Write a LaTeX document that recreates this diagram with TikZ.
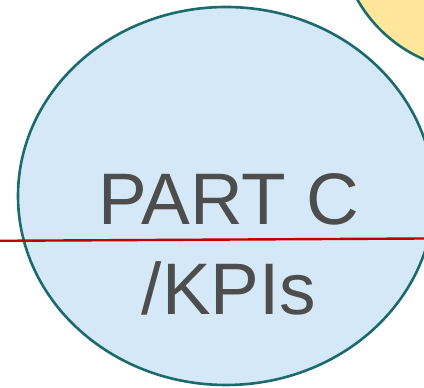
\documentclass[tikz,border=0pt]{standalone}
\usepackage{fontspec}
\setmainfont{Liberation Sans}
\usetikzlibrary{shapes.geometric}
\definecolor{ringteal}{HTML}{1B6A6E}
\definecolor{kpiblue}{HTML}{D5E8F8}
\definecolor{sunyellow}{HTML}{FFE699}
\definecolor{kpired}{HTML}{C00000}
\definecolor{labelgray}{HTML}{4D4D4D}
\begin{document}
\begin{tikzpicture}[x=1pt,y=1pt,
  bubble/.style={ellipse, draw=ringteal, line width=2.6pt, inner sep=0pt},
  bigtext/.style={text=labelgray, font=\fontsize{73}{90}\selectfont, align=center}]
\useasboundingbox (0,0) rectangle (424,388);

\node[bubble, fill=kpiblue, minimum width=416pt, minimum height=378pt] (partc) at (226,192) {};
\node[bubble, fill=sunyellow, minimum width=282pt, minimum height=282pt] (nextpart) at (480,458) {};

\coordinate (cutL) at (0,147.2);
\coordinate (cutR) at (424,149.5);
\draw[draw=kpired, line width=2.4pt] (cutL) -- (cutR);

\node[bigtext] (partlabel) at (229,144) {PART C\\/KPIs};
\end{tikzpicture}
\end{document}
